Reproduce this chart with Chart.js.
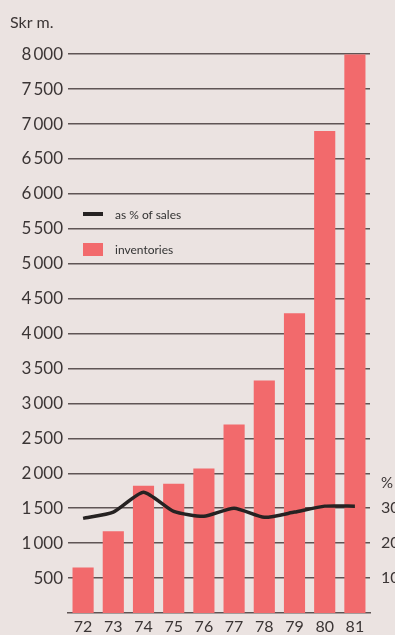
<!DOCTYPE html>
<html>
<head>
<meta charset="utf-8">
<script src="https://cdn.jsdelivr.net/npm/chart.js@4.4.1/dist/chart.umd.min.js"></script>
<style>
  html, body { margin: 0; padding: 0; background: #ebe3e1; }
  #wrap { position: relative; width: 395px; height: 635px; overflow: hidden; }
  #chart { display: block; }
  #legend { position: absolute; left: 83px; top: 205px; font: 12px Lato, sans-serif; color: #333; }
  #legend .item { display: flex; align-items: center; height: 18px; margin-bottom: 17px; }
  #legend .sw { width: 20px; margin-right: 12px; }
</style>
</head>
<body>
<div id="wrap">
  <canvas id="chart" width="395" height="635"></canvas>
  <div id="legend"></div>
</div>
<script>
// years 1972-81
const years = ["72", "73", "74", "75", "76", "77", "78", "79", "80", "81"];
// inventories, Skr m.
const inventories = [650, 1170, 1820, 1850, 2070, 2700, 3330, 4290, 6900, 8000];
// inventories as % of sales
const pctOfSales = [27.1, 28.9, 34.6, 29.1, 27.7, 30.0, 27.4, 28.9, 30.6, 30.6];
const pctTicks = [10, 20, 30];

const barColor = "#f26a6c";
const lineColor = "#262222";
const textColor = "#3b3535";
const gridColor = "rgba(70, 60, 60, 0.85)";

// thin space between thousands, like 8 000
function fmt(v) {
    const s = String(v);
    return s.length > 3 ? s.slice(0, -3) + "\u2009" + s.slice(-3) : s;
}

// little "%" sign above the right hand ticks
const percentSign = {
    id: "percentSign",
    afterDraw(chart) {
        const ctx = chart.ctx;
        const y = chart.scales.pct.getPixelForValue(30) - 25;
        ctx.save();
        ctx.font = "15px Lato, sans-serif";
        ctx.fillStyle = textColor;
        ctx.textBaseline = "middle";
        ctx.fillText("%", chart.scales.pct.left + 11, y);
        ctx.restore();
    }
};

const chart = new Chart(document.getElementById("chart"), {
    data: {
        labels: years,
        datasets: [
            {
                type: "line",
                label: "as % of sales",
                data: pctOfSales,
                yAxisID: "pct",
                borderColor: lineColor,
                borderWidth: 3.5,
                pointRadius: 0,
                tension: 0.2,
                order: 0
            },
            {
                type: "bar",
                label: "inventories",
                data: inventories,
                yAxisID: "y",
                backgroundColor: barColor,
                barPercentage: 0.7,
                categoryPercentage: 1,
                order: 1
            }
        ]
    },
    plugins: [percentSign],
    options: {
        responsive: false,
        animation: false,
        layout: { padding: { left: 10, top: 0, right: 0, bottom: 0 } },
        plugins: {
            legend: { display: false },
            tooltip: { enabled: false },
            title: {
                display: true,
                text: "Skr m.",
                align: "start",
                color: textColor,
                font: { family: "Lato, sans-serif", size: 16, weight: "normal" },
                padding: { top: 13, bottom: 22 }
            }
        },
        scales: {
            x: {
                afterFit: s => { s.height = 22; },
                grid: { display: false, drawTicks: false },
                border: { display: true, color: gridColor, width: 1.5 },
                ticks: { color: textColor, font: { family: "Lato, sans-serif", size: 16 }, padding: 4 }
            },
            y: {
                position: "left",
                min: 0,
                max: 8000,
                z: 1,
                afterBuildTicks: s => { s.ticks = s.ticks.filter(t => t.value > 0); },
                afterFit: s => { s.width = 58; },
                ticks: {
                    stepSize: 500,
                    color: textColor,
                    padding: 5,
                    font: { family: "Lato, sans-serif", size: 17 },
                    callback: v => fmt(v)
                },
                grid: { color: gridColor, lineWidth: 1.5, drawTicks: false },
                border: { display: false }
            },
            pct: {
                position: "right",
                min: 0,
                max: 160,
                afterBuildTicks: s => { s.ticks = pctTicks.map(v => ({ value: v })); },
                afterFit: s => { s.width = 25; },
                ticks: {
                    color: textColor,
                    padding: 11,
                    font: { family: "Lato, sans-serif", size: 16 }
                },
                grid: { display: false, drawTicks: false },
                border: { display: false }
            }
        }
    }
});

// legend inside the plot, line first then bars
const legend = document.getElementById("legend");
chart.data.datasets.forEach(ds => {
    const item = document.createElement("div");
    item.className = "item";
    const sw = document.createElement("span");
    sw.className = "sw";
    if (ds.type === "line") {
        sw.style.height = "4px";
        sw.style.background = ds.borderColor;
    } else {
        sw.style.height = "13px";
        sw.style.background = ds.backgroundColor;
    }
    const txt = document.createElement("span");
    txt.textContent = ds.label;
    item.appendChild(sw);
    item.appendChild(txt);
    legend.appendChild(item);
});
</script>
</body>
</html>
